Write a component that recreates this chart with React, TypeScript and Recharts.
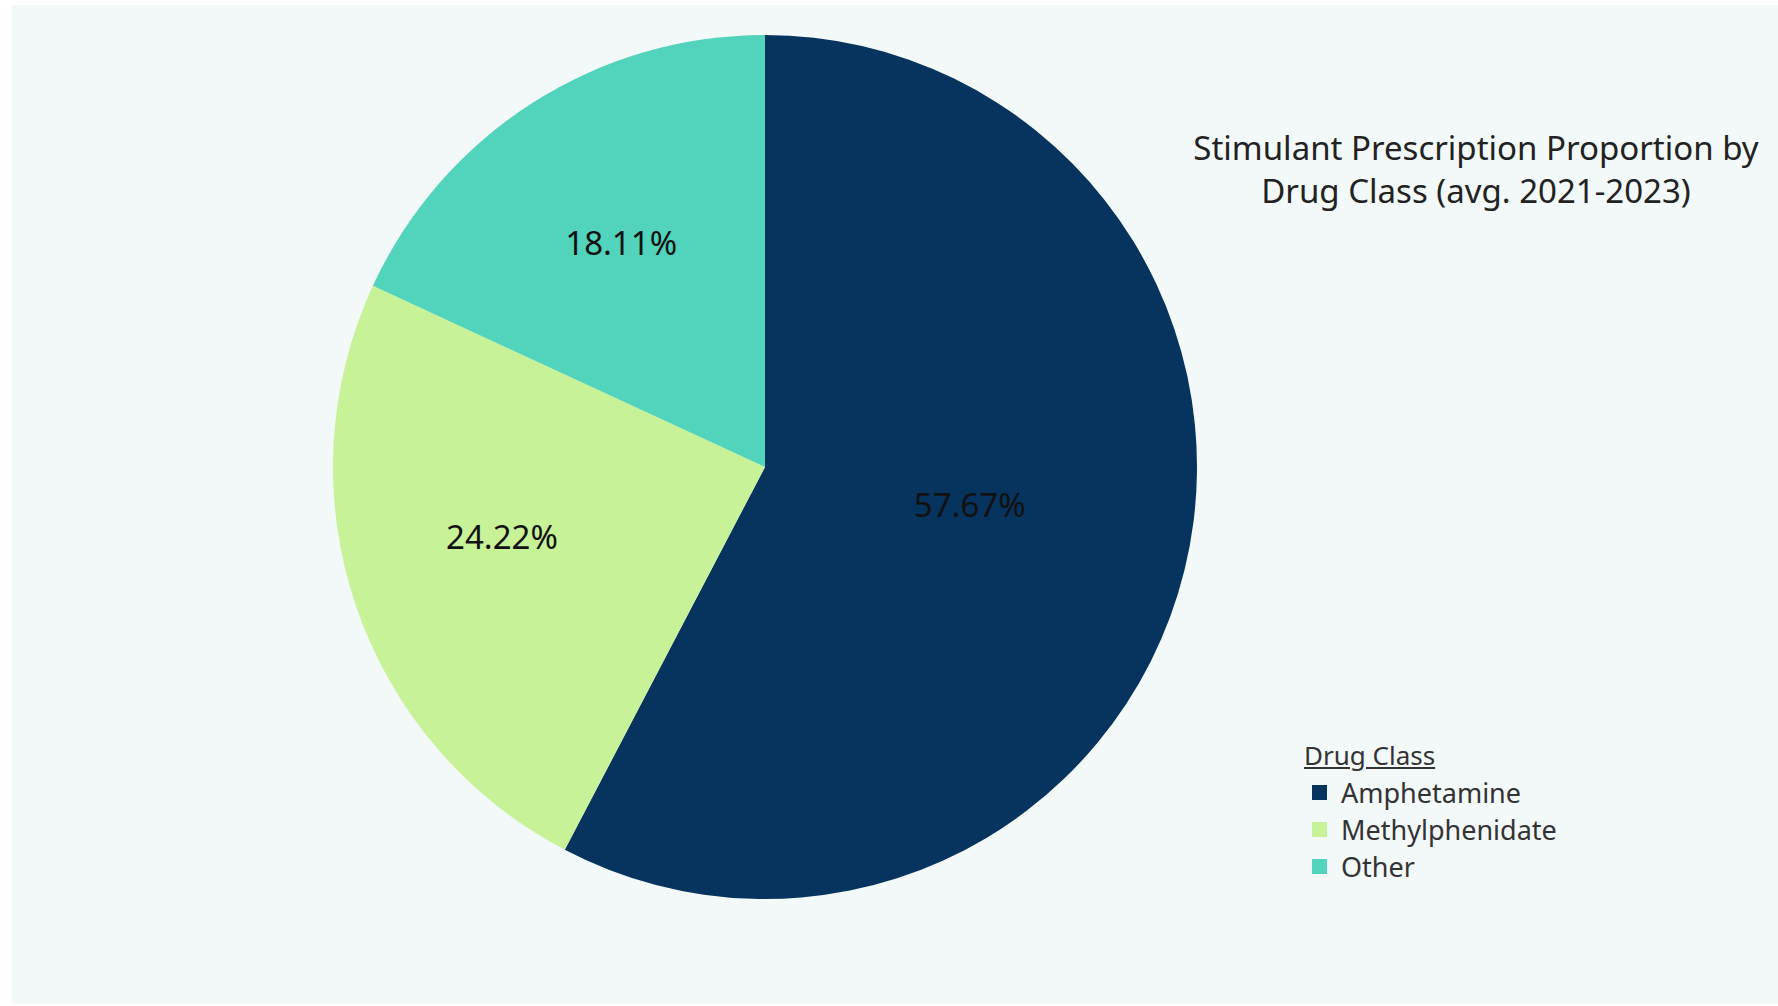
import React from "react";
import { PieChart, Pie, Cell, Legend } from "recharts";

const categories = ["Amphetamine", "Methylphenidate", "Other"];
const shares = [57.67, 24.22, 18.11];
const colors = ["#06345e", "#c8f297", "#52d3bb"];
const labelRadiusFactor = [0.482, 0.63, 0.618];
const labelAngleShift = [3.3, -3.9, 0];
const titleLines = ["Stimulant Prescription Proportion by", "Drug Class (avg. 2021-2023)"];
const legendTitle = "Drug Class";

const data = categories.map((name, i) => ({ name, value: shares[i] }));

const FONT = "'Noto Sans', 'Open Sans', sans-serif";

const RADIAN = Math.PI / 180;
const renderLabel = (props: any) => {
  const { cx, cy, midAngle, outerRadius, index, value } = props;
  const r = outerRadius * labelRadiusFactor[index];
  const a = midAngle + labelAngleShift[index];
  const x = cx + r * Math.cos(-a * RADIAN);
  const y = cy + r * Math.sin(-a * RADIAN);
  return (
    <text
      x={x}
      y={y}
      fill="#111"
      textAnchor="middle"
      dominantBaseline="central"
      fontSize={33}
      fontFamily={FONT}
    >
      {value.toFixed(2)}%
    </text>
  );
};

const renderLegend = (props: any) => {
  const { payload } = props;
  return (
    <div style={{ fontFamily: FONT, color: "#333" }}>
      <div style={{ fontSize: 26, textDecoration: "underline", marginBottom: 2, lineHeight: "34px" }}>
        {legendTitle}
      </div>
      {(payload || []).map((p: any, i: number) => (
        <div key={i} style={{ display: "flex", alignItems: "center", height: 37, fontSize: 27 }}>
          <span
            style={{
              display: "inline-block",
              width: 15,
              height: 15,
              background: p.color,
              marginLeft: 8,
              marginRight: 14,
            }}
          />
          <span>{p.value}</span>
        </div>
      ))}
    </div>
  );
};

export default function App() {
  return (
    <div style={{ position: "absolute", left: 0, top: 0, width: 1778, height: 1006, background: "#ffffff" }}>
      <div
        style={{
          position: "absolute",
          left: 12,
          top: 5,
          width: 1766,
          height: 999,
          background: "#f3f8f8",
        }}
      />
      <div style={{ position: "absolute", left: 0, top: 0 }}>
        <PieChart width={1778} height={1006} margin={{ top: 0, right: 0, bottom: 0, left: 0 }}>
          <Pie
            data={data}
            dataKey="value"
            nameKey="name"
            cx={765}
            cy={467}
            outerRadius={432}
            startAngle={90}
            endAngle={-270}
            stroke="none"
            label={renderLabel}
            labelLine={false}
            isAnimationActive={false}
          >
            {data.map((d, i) => (
              <Cell key={d.name} fill={colors[i]} />
            ))}
          </Pie>
          <Legend
            layout="vertical"
            content={renderLegend}
            wrapperStyle={{ position: "absolute", left: 1304, top: 738, width: 320 }}
          />
        </PieChart>
      </div>
      <div
        style={{
          position: "absolute",
          left: 1126,
          top: 126,
          width: 700,
          textAlign: "center",
          fontFamily: FONT,
          fontSize: 33,
          lineHeight: "43px",
          color: "#222",
        }}
      >
        {titleLines.map((t) => (
          <div key={t}>{t}</div>
        ))}
      </div>
    </div>
  );
}
